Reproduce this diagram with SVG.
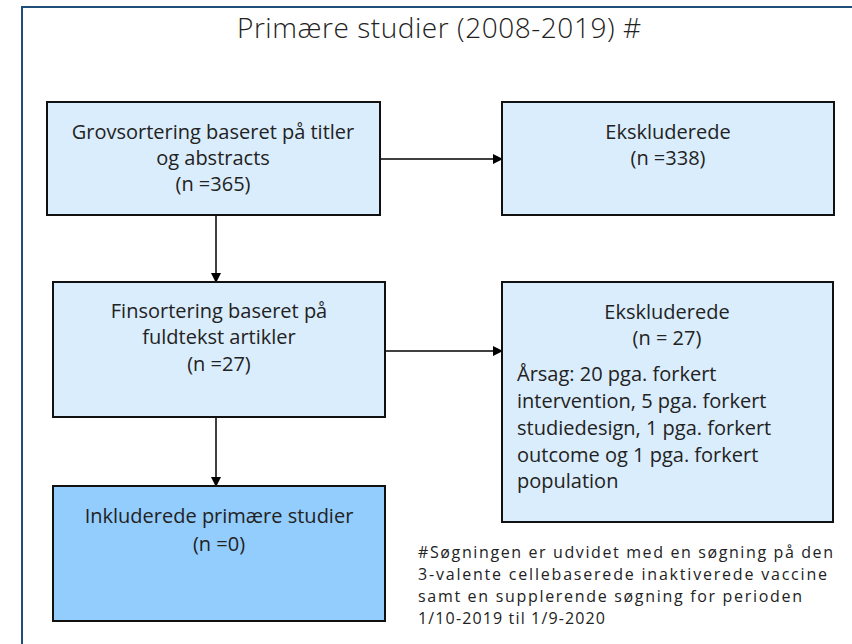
<svg xmlns="http://www.w3.org/2000/svg" width="852" height="644" viewBox="0 0 852 644">
<defs>
<style>
.box{fill:#daedfc;stroke:#111;stroke-width:2}
.dark{fill:#93cdfd}
.t{font-family:"Open Sans","Liberation Sans",sans-serif;font-size:20px;fill:#222;text-anchor:middle}
.tl{text-anchor:start}
.title{font-family:"Open Sans","Liberation Sans",sans-serif;font-size:28px;fill:#222;font-weight:300;text-anchor:middle}
.foot{font-family:"Open Sans","Liberation Sans",sans-serif;font-size:16px;fill:#222}
.conn{stroke:#000;stroke-width:1.5;fill:none;marker-end:url(#ah)}
</style>
<marker id="ah" markerWidth="10" markerHeight="10" refX="9" refY="5" orient="auto" markerUnits="userSpaceOnUse" viewBox="0 0 10 10">
<path d="M0,0 L10,5 L0,10 Z" fill="#000"/>
</marker>
</defs>
<rect width="852" height="644" fill="#fff"/>
<rect x="22" y="7" width="850" height="660" fill="none" stroke="#1f4e79" stroke-width="2"/>
<text class="title" x="439" y="38" textLength="404" lengthAdjust="spacing">Primære studier (2008-2019) #</text>

<g id="connectors">
<path class="conn" d="M380,159 H502"/>
<path class="conn" d="M216,215 V282"/>
<path class="conn" d="M385,351 H502"/>
<path class="conn" d="M216,417 V486"/>
</g>

<g id="n1">
<rect class="box" x="47" y="102" width="333" height="113"/>
<text class="t" x="213" y="139">Grovsortering baseret på titler</text>
<text class="t" x="213" y="165">og abstracts</text>
<text class="t" x="213" y="191">(n =365)</text>
</g>
<g id="n2">
<rect class="box" x="502" y="102" width="332" height="113"/>
<text class="t" x="668" y="139">Ekskluderede</text>
<text class="t" x="668" y="165">(n =338)</text>
</g>
<g id="n3">
<rect class="box" x="53" y="282" width="332" height="135"/>
<text class="t" x="219" y="318">Finsortering baseret på</text>
<text class="t" x="219" y="344">fuldtekst artikler</text>
<text class="t" x="219" y="371">(n =27)</text>
</g>
<g id="n4">
<rect class="box" x="502" y="282" width="331" height="240"/>
<text class="t" x="667" y="319">Ekskluderede</text>
<text class="t" x="667" y="345">(n = 27)</text>
<text class="t tl" x="517" y="381">Årsag: 20 pga. forkert</text>
<text class="t tl" x="517" y="408">intervention, 5 pga. forkert</text>
<text class="t tl" x="517" y="435">studiedesign, 1 pga. forkert</text>
<text class="t tl" x="517" y="462">outcome og 1 pga. forkert</text>
<text class="t tl" x="517" y="488">population</text>
</g>
<g id="n5">
<rect class="box dark" x="53" y="486" width="332" height="135"/>
<text class="t" x="219" y="523">Inkluderede primære studier</text>
<text class="t" x="219" y="551">(n =0)</text>
</g>
<g id="footnote">
<text class="foot" x="418" y="558" textLength="415" lengthAdjust="spacing">#Søgningen er udvidet med en søgning på den</text>
<text class="foot" x="418" y="580" textLength="409" lengthAdjust="spacing">3-valente cellebaserede inaktiverede vaccine</text>
<text class="foot" x="418" y="602" textLength="384" lengthAdjust="spacing">samt en supplerende søgning for perioden</text>
<text class="foot" x="418" y="624" textLength="187" lengthAdjust="spacing">1/10-2019 til 1/9-2020</text>
</g>
</svg>
